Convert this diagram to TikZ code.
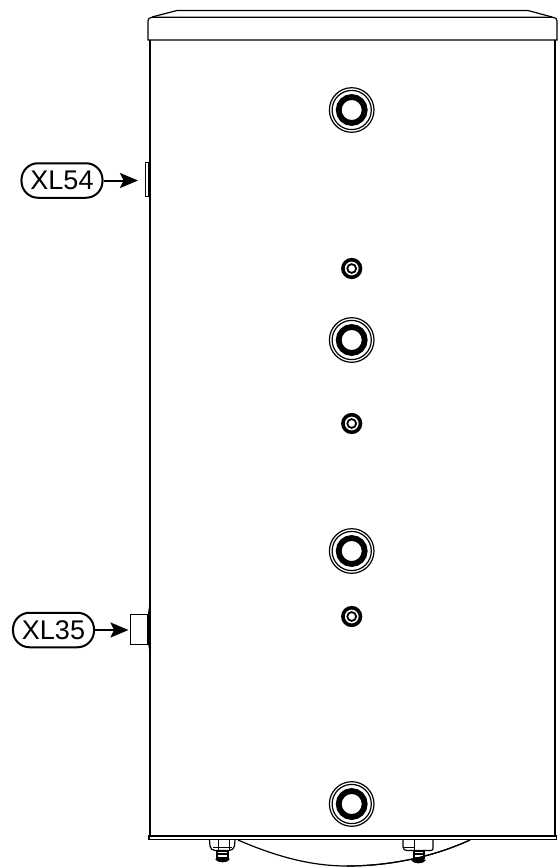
\documentclass[tikz,border=0pt]{standalone}
\usepackage{fontspec}
\setmainfont{Liberation Sans}
\usetikzlibrary{arrows.meta}
\tikzset{
  x=1bp,y=-1bp,
  ln/.style={draw=black,line width=1.2bp},
  thin ln/.style={draw=black,line width=0.7bp},
  tag/.style={draw=black,line width=2bp,rounded corners=16.5bp,minimum width=81bp,minimum height=34.5bp,inner sep=0pt,font=\fontsize{27bp}{29bp}\selectfont},
  pointer/.style={draw=black,line width=2bp,-{Stealth[length=18bp,width=15bp,inset=3.5bp]}},
}
\newcommand{\bigport}[2]{%
  \draw[ln] (#1,#2) circle[radius=22.3];
  \draw[ln] (#1,#2) circle[radius=19.6];
  \draw[black,line width=5.8bp] (#1,#2) circle[radius=13];
}
\newcommand{\smallport}[2]{%
  \draw[black,line width=3.6bp] (#1,#2) circle[radius=8.8];
  \draw[black,line width=1.8bp] (#1,#2) circle[radius=4.4];
}
\begin{document}
\begin{tikzpicture}
\useasboundingbox (0,0) rectangle (558,867);
% lid
\draw[ln] (148,40) -- (148,21) .. controls (148,18.5) and (149.5,17.5) .. (152,17.3) -- (553,17.3) .. controls (555.5,17.5) and (557,18.5) .. (557,21) -- (557,40) -- cycle;
\draw[ln] (152,17) -- (177,10.5) -- (528,10.5) -- (552,17);
% body
\draw[ln] (150,40) -- (150,836);
\draw[ln] (555,40) -- (555,836);
% bottom band
\draw[ln] (149,836) rectangle (556.5,839.5);
% dished base
\draw[ln] (238,840) .. controls (275,856) and (310,866) .. (347,866) .. controls (392,866) and (435,856) .. (470,840);
% left foot
\draw[ln] (209.5,840) -- (210,846) .. controls (210.5,849) and (212,850) .. (215,850.5) -- (229,850.5) .. controls (232,850) and (234,849) .. (234.5,846) -- (235,840);
\draw[thin ln] (218,840) -- (218,850) (229,840) -- (229,850) (213,847) -- (232,847);
\draw[ln,fill=white] (217,851) rectangle (228,858);
\draw[line width=2bp] (217,854) -- (228,854);
\fill[black] (215,859) .. controls (218,858) and (227,858) .. (230,859) .. controls (228,863.5) and (217,863.5) .. (215,859) -- cycle;
% right foot
\draw[ln] (403,840) -- (403,847) .. controls (403,849.5) and (405,850.5) .. (407,850.5) -- (431,850.5) .. controls (432.5,850.5) and (433,849.5) .. (433,848) -- (433,840);
\draw[thin ln] (414,840) -- (414,850) (404,847) -- (414,847);
\draw[ln,fill=white] (414,851) rectangle (424,858);
\draw[line width=2bp] (413,854) -- (425,854);
\fill[black] (411,860) .. controls (414,858) and (423,858) .. (426,860) .. controls (424,864.5) and (413,864.5) .. (411,860) -- cycle;
\draw[ln] (347,866) .. controls (392,866) and (435,856) .. (470,840);
% ports
\bigport{351.7}{110}
\bigport{351.7}{340}
\bigport{351.7}{551}
\bigport{351.7}{804}
\smallport{351.7}{268.5}
\smallport{351.7}{423.5}
\smallport{351.7}{616.5}
% XL54 fitting
\draw[thin ln,line width=0.9bp,fill=white] (145,162) rectangle (149,196);
\draw[black,line width=2.4bp] (149.5,162) -- (149.5,196);
% XL35 fitting
\draw[ln,fill=white] (130.5,614.5) rectangle (148,644.5);
\fill[black] (150,602) .. controls (146.5,616) and (146.5,640) .. (150,654) .. controls (150.8,640) and (150.8,616) .. (150,602) -- cycle;
% tags
\node[tag] (xl54) at (62,180.5) {XL54};
\node[tag] (xl35) at (53.5,630) {XL35};
\coordinate (p54) at (138,180.5);
\coordinate (p35) at (128.5,630);
\draw[pointer] (xl54) -- (p54);
\draw[pointer] (xl35) -- (p35);
\end{tikzpicture}
\end{document}
